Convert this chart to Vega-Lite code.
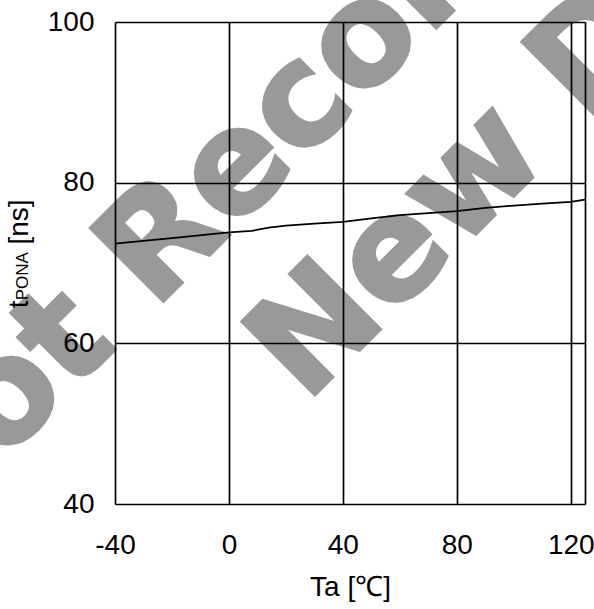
{
  "$schema": "https://vega.github.io/schema/vega-lite/v6.json",
  "width": 470,
  "height": 482,
  "autosize": {"type": "none"},
  "padding": {"left": 115, "top": 22, "right": 9, "bottom": 105},
  "background": "white",
  "resolve": {"axis": {"x": "independent", "y": "independent"}},
  "config": {
    "view": {"stroke": null}
  },
  "layer": [
    {
      "data": {"values": [{"label": "Not Recommended for"}]},
      "mark": {"type": "text", "angle": -45, "align": "left", "baseline": "alphabetic", "font": "DejaVu Sans", "fontWeight": "bold", "fontSize": 142, "fill": "#999999", "stroke": "#999999", "strokeWidth": 3, "strokeJoin": "miter"},
      "encoding": {
        "x": {"datum": -109.1, "type": "quantitative", "axis": null},
        "y": {"datum": 34.72, "type": "quantitative", "axis": null},
        "text": {"field": "label"}
      }
    },
    {
      "data": {"values": [{"label": "New Design"}]},
      "mark": {"type": "text", "angle": -45, "align": "left", "baseline": "alphabetic", "font": "DejaVu Sans", "fontWeight": "bold", "fontSize": 142, "fill": "#999999", "stroke": "#999999", "strokeWidth": 3, "strokeJoin": "miter"},
      "encoding": {
        "x": {"datum": 26.98, "type": "quantitative", "axis": null},
        "y": {"datum": 52.44, "type": "quantitative", "axis": null},
        "text": {"field": "label"}
      }
    },
    {
      "data": {"values": [
        {"Ta": -40, "tPONA": 72.42},
        {"Ta": -20, "tPONA": 73.1},
        {"Ta": 0, "tPONA": 73.8},
        {"Ta": 8, "tPONA": 74.0},
        {"Ta": 14, "tPONA": 74.4},
        {"Ta": 20, "tPONA": 74.65},
        {"Ta": 30, "tPONA": 74.9},
        {"Ta": 40, "tPONA": 75.13},
        {"Ta": 50, "tPONA": 75.55},
        {"Ta": 60, "tPONA": 75.97},
        {"Ta": 70, "tPONA": 76.2},
        {"Ta": 80, "tPONA": 76.46},
        {"Ta": 90, "tPONA": 76.85},
        {"Ta": 100, "tPONA": 77.15},
        {"Ta": 110, "tPONA": 77.4},
        {"Ta": 120, "tPONA": 77.62},
        {"Ta": 125, "tPONA": 77.9}
      ]},
      "mark": {"type": "line", "color": "black", "strokeWidth": 1.8},
      "encoding": {
        "x": {
          "field": "Ta", "type": "quantitative",
          "scale": {"domain": [-40, 125], "nice": false, "zero": false},
          "axis": {
            "values": [-40, 0, 40, 80, 120, 125],
            "labelExpr": "datum.value == 125 ? '' : '' + datum.value",
            "grid": true,
            "gridColor": "black",
            "gridWidth": 1.7,
            "gridOpacity": 1,
            "domain": false,
            "ticks": false,
            "tickSize": 0,
            "zindex": 1,
            "labelFont": "Liberation Sans",
            "labelFontSize": 28,
            "labelColor": "black",
            "labelPadding": 27,
            "labelFlush": false,
            "labelOverlap": false,
            "title": "Ta [℃]",
            "titleFont": "Liberation Sans",
            "titleFontSize": 28,
            "titleFontWeight": "normal",
            "titleColor": "black",
            "titlePadding": 14
          }
        },
        "y": {
          "field": "tPONA", "type": "quantitative",
          "scale": {"domain": [40, 100], "nice": false, "zero": false},
          "axis": {
            "values": [40, 60, 80, 100],
            "grid": true,
            "gridColor": "black",
            "gridWidth": 1.7,
            "gridOpacity": 1,
            "domain": false,
            "ticks": false,
            "tickSize": 0,
            "zindex": 1,
            "labelFont": "Liberation Sans",
            "labelFontSize": 28,
            "labelColor": "black",
            "labelPadding": 21,
            "labelFlush": false,
            "labelOverlap": false,
            "title": null
          }
        }
      }
    },
    {
      "data": {"values": [{"label": "t"}]},
      "mark": {"type": "text", "angle": -90, "align": "left", "baseline": "alphabetic", "font": "Liberation Sans", "fontSize": 28, "color": "black"},
      "encoding": {
        "x": {"datum": -70.6, "type": "quantitative", "axis": null},
        "y": {"datum": 64.38, "type": "quantitative", "axis": null},
        "text": {"field": "label"}
      }
    },
    {
      "data": {"values": [{"label": "PONA"}]},
      "mark": {"type": "text", "angle": -90, "align": "left", "baseline": "alphabetic", "font": "Liberation Sans", "fontSize": 17, "color": "black"},
      "encoding": {
        "x": {"datum": -70.6, "type": "quantitative", "axis": null},
        "y": {"datum": 65.36, "type": "quantitative", "axis": null},
        "text": {"field": "label"}
      }
    },
    {
      "data": {"values": [{"label": "[ns]"}]},
      "mark": {"type": "text", "angle": -90, "align": "left", "baseline": "alphabetic", "font": "Liberation Sans", "fontSize": 28, "color": "black"},
      "encoding": {
        "x": {"datum": -70.6, "type": "quantitative", "axis": null},
        "y": {"datum": 72.3, "type": "quantitative", "axis": null},
        "text": {"field": "label"}
      }
    }
  ]
}
